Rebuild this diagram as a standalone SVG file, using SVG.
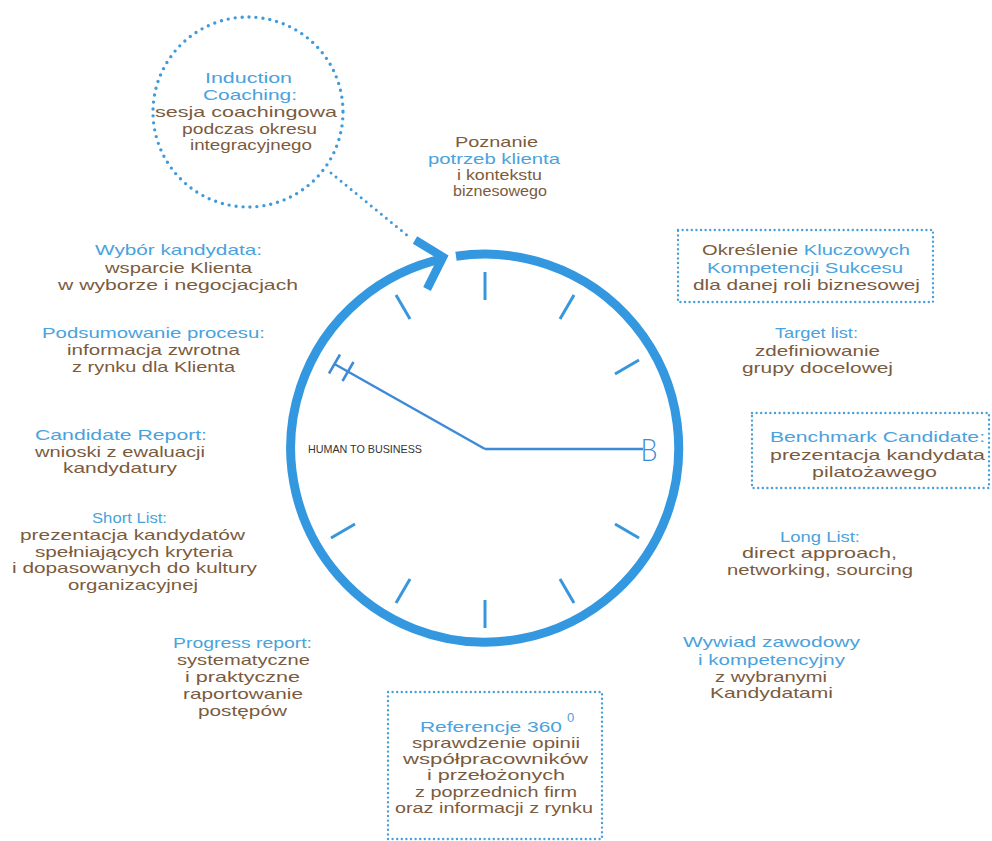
<svg xmlns="http://www.w3.org/2000/svg" width="992" height="841" viewBox="0 0 992 841">
<style>
text{font-family:"Liberation Sans","DejaVu Sans",sans-serif;font-size:14.5px}
.b{fill:#4aa2dc}
.r{fill:#7b5b3e}
.dot{fill:none;stroke:#4a9fd9;stroke-width:2.4;stroke-linecap:round;stroke-dasharray:0 4.6}
.dotc{fill:none;stroke:#3f9bdb;stroke-width:3.4;stroke-linecap:round;stroke-dasharray:0 7}
.tick{stroke:#3796dc;stroke-width:3;stroke-linecap:butt}
.hand{stroke:#3d8ad6;stroke-width:2.5;fill:none}
</style>
<rect width="992" height="841" fill="#ffffff"/>

<g id="clock">
<path d="M 456 256.3 A 194 194 0 1 1 443 258.7" fill="none" stroke="#3498e0" stroke-width="9"/>
<polyline points="415,240 443,257 427,289" fill="none" stroke="#3498e0" stroke-width="8.5" stroke-linejoin="miter" stroke-miterlimit="10"/>
<g class="tick">
<line x1="485" y1="272" x2="485" y2="300"/>
<line x1="574" y1="295" x2="560" y2="319"/>
<line x1="639" y1="360" x2="615" y2="374"/>
<line x1="615" y1="524" x2="639" y2="538"/>
<line x1="560" y1="579" x2="574" y2="603"/>
<line x1="485" y1="600" x2="485" y2="628"/>
<line x1="410" y1="579" x2="396" y2="603"/>
<line x1="355" y1="524" x2="331" y2="538"/>
<line x1="396" y1="295" x2="410" y2="319"/>
</g>
<g class="hand">
<line x1="485" y1="449" x2="334.5" y2="364"/>
<line x1="340" y1="354.5" x2="329" y2="373.5"/>
<line x1="353.5" y1="362" x2="342.5" y2="381"/>
<line x1="485" y1="449" x2="643" y2="449"/>
</g>
<text x="640.5" y="461" style="font-family:Lato,Inter,'Liberation Sans',sans-serif;font-size:31px;font-weight:300" fill="#3d8ad6" textLength="17" lengthAdjust="spacingAndGlyphs">B</text>
<text x="308" y="453" style="font-size:10.5px" fill="#333333" textLength="114" lengthAdjust="spacingAndGlyphs">HUMAN TO BUSINESS</text>
</g>

<g id="connectors">
<line class="dotc" x1="331" y1="173" x2="408" y2="236" style="stroke-dasharray:0 6.5;stroke-width:3"/>
</g>

<g id="induction">
<circle class="dotc" cx="248" cy="112" r="95"/>
<text class="b" x="205" y="83" textLength="87" lengthAdjust="spacingAndGlyphs">Induction</text>
<text class="b" x="203" y="100" textLength="94" lengthAdjust="spacingAndGlyphs">Coaching:</text>
<text class="r" x="155" y="117" textLength="182" lengthAdjust="spacingAndGlyphs">sesja coachingowa</text>
<text class="r" x="182" y="134" textLength="135" lengthAdjust="spacingAndGlyphs">podczas okresu</text>
<text class="r" x="190" y="150" textLength="122" lengthAdjust="spacingAndGlyphs">integracyjnego</text>
</g>

<g id="poznanie">
<text class="r" x="455" y="147" textLength="83" lengthAdjust="spacingAndGlyphs">Poznanie</text>
<text class="b" x="428" y="164" textLength="132" lengthAdjust="spacingAndGlyphs">potrzeb klienta</text>
<text class="r" x="457" y="180" textLength="85" lengthAdjust="spacingAndGlyphs">i kontekstu</text>
<text class="r" x="453" y="196" textLength="94" lengthAdjust="spacingAndGlyphs">biznesowego</text>
</g>

<g id="okreslenie">
<rect class="dot" x="678" y="230" width="255" height="72"/>
<text x="702" y="255" textLength="208" lengthAdjust="spacingAndGlyphs"><tspan class="r">Określenie </tspan><tspan class="b">Kluczowych</tspan></text>
<text class="b" x="707" y="273" textLength="196" lengthAdjust="spacingAndGlyphs">Kompetencji Sukcesu</text>
<text class="r" x="693" y="290" textLength="227" lengthAdjust="spacingAndGlyphs">dla danej roli biznesowej</text>
</g>

<g id="target">
<text class="b" x="775" y="338" textLength="83" lengthAdjust="spacingAndGlyphs">Target list:</text>
<text class="r" x="755" y="356" textLength="125" lengthAdjust="spacingAndGlyphs">zdefiniowanie</text>
<text class="r" x="742" y="373" textLength="151" lengthAdjust="spacingAndGlyphs">grupy docelowej</text>
</g>

<g id="benchmark">
<rect class="dot" x="752" y="413" width="237" height="75"/>
<text class="b" x="770" y="442" textLength="215" lengthAdjust="spacingAndGlyphs">Benchmark Candidate:</text>
<text class="r" x="770" y="460" textLength="215" lengthAdjust="spacingAndGlyphs">prezentacja kandydata</text>
<text class="r" x="812" y="477" textLength="125" lengthAdjust="spacingAndGlyphs">pilatożawego</text>
</g>

<g id="longlist">
<text class="b" x="780" y="542" textLength="80" lengthAdjust="spacingAndGlyphs">Long List:</text>
<text class="r" x="742" y="558" textLength="155" lengthAdjust="spacingAndGlyphs">direct approach,</text>
<text class="r" x="727" y="575" textLength="186" lengthAdjust="spacingAndGlyphs">networking, sourcing</text>
</g>

<g id="wywiad">
<text class="b" x="683" y="647" textLength="177" lengthAdjust="spacingAndGlyphs">Wywiad zawodowy</text>
<text class="b" x="698" y="665" textLength="147" lengthAdjust="spacingAndGlyphs">i kompetencyjny</text>
<text class="r" x="715" y="682" textLength="112" lengthAdjust="spacingAndGlyphs">z wybranymi</text>
<text class="r" x="710" y="698" textLength="123" lengthAdjust="spacingAndGlyphs">Kandydatami</text>
</g>

<g id="referencje">
<rect class="dot" x="388" y="692" width="214" height="147"/>
<text class="b" x="420" y="732" textLength="142" lengthAdjust="spacingAndGlyphs">Referencje  360</text>
<text class="b" x="567" y="722" style="font-size:13px">0</text>
<text class="r" x="412" y="748" textLength="168" lengthAdjust="spacingAndGlyphs">sprawdzenie opinii</text>
<text class="r" x="403" y="764" textLength="185" lengthAdjust="spacingAndGlyphs">współpracowników</text>
<text class="r" x="427" y="780" textLength="138" lengthAdjust="spacingAndGlyphs">i przełożonych</text>
<text class="r" x="415" y="797" textLength="162" lengthAdjust="spacingAndGlyphs">z poprzednich firm</text>
<text class="r" x="395" y="813" textLength="198" lengthAdjust="spacingAndGlyphs">oraz informacji z rynku</text>
</g>

<g id="progress">
<text class="b" x="173" y="648" textLength="139" lengthAdjust="spacingAndGlyphs">Progress report:</text>
<text class="r" x="177" y="665" textLength="133" lengthAdjust="spacingAndGlyphs">systematyczne</text>
<text class="r" x="185" y="682" textLength="115" lengthAdjust="spacingAndGlyphs">i praktyczne</text>
<text class="r" x="183" y="699" textLength="120" lengthAdjust="spacingAndGlyphs">raportowanie</text>
<text class="r" x="198" y="716" textLength="89" lengthAdjust="spacingAndGlyphs">postępów</text>
</g>

<g id="wybor">
<text class="b" x="95" y="255" textLength="167" lengthAdjust="spacingAndGlyphs">Wybór kandydata:</text>
<text class="r" x="105" y="273" textLength="147" lengthAdjust="spacingAndGlyphs">wsparcie Klienta</text>
<text class="r" x="58" y="290" textLength="240" lengthAdjust="spacingAndGlyphs">w wyborze i negocjacjach</text>
</g>

<g id="podsumowanie">
<text class="b" x="42" y="338" textLength="223" lengthAdjust="spacingAndGlyphs">Podsumowanie procesu:</text>
<text class="r" x="67" y="355" textLength="173" lengthAdjust="spacingAndGlyphs">informacja zwrotna</text>
<text class="r" x="72" y="372" textLength="163" lengthAdjust="spacingAndGlyphs">z rynku dla Klienta</text>
</g>

<g id="candidate">
<text class="b" x="35" y="440" textLength="172" lengthAdjust="spacingAndGlyphs">Candidate Report:</text>
<text class="r" x="35" y="457" textLength="170" lengthAdjust="spacingAndGlyphs">wnioski z ewaluacji</text>
<text class="r" x="63" y="473" textLength="114" lengthAdjust="spacingAndGlyphs">kandydatury</text>
</g>

<g id="shortlist">
<text class="b" x="92" y="523" textLength="75" lengthAdjust="spacingAndGlyphs">Short List:</text>
<text class="r" x="20" y="540" textLength="225" lengthAdjust="spacingAndGlyphs">prezentacja kandydatów</text>
<text class="r" x="35" y="557" textLength="198" lengthAdjust="spacingAndGlyphs">spełniających kryteria</text>
<text class="r" x="12" y="573" textLength="245" lengthAdjust="spacingAndGlyphs">i dopasowanych do kultury</text>
<text class="r" x="68" y="590" textLength="130" lengthAdjust="spacingAndGlyphs">organizacyjnej</text>
</g>
</svg>
